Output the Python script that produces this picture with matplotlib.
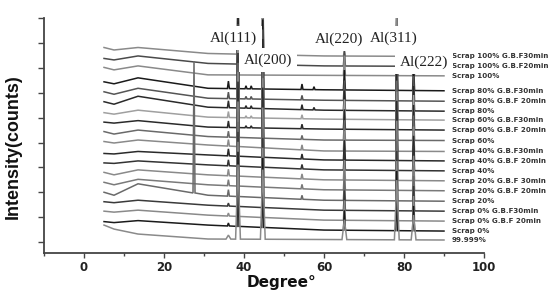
import numpy as np
import matplotlib
matplotlib.use("Agg")
import matplotlib.pyplot as plt
from matplotlib.ticker import MultipleLocator

# ---------------- data ----------------
sample_labels = [
    "Scrap 100% G.B.F30min", "Scrap 100% G.B.F20min", "Scrap 100%",
    "Scrap 80% G.B.F30min", "Scrap 80% G.B.F 20min", "Scrap 80%",
    "Scrap 60% G.B.F30min", "Scrap 60% G.B.F 20min", "Scrap 60%",
    "Scrap 40% G.B.F30min", "Scrap 40% G.B.F 20min", "Scrap 40%",
    "Scrap 20% G.B.F 30min", "Scrap 20% G.B.F 20min", "Scrap 20%",
    "Scrap 0% G.B.F30min", "Scrap 0% G.B.F 20min", "Scrap 0%",
    "99.999%",
]

# baseline (offset, counts) of each stacked pattern at these 2-theta values
base_x = [5, 7.5, 13.5, 31, 60, 90]
baselines = [
    [3910, 3860, 3910, 3790, 3740, 3730],
    [3690, 3660, 3740, 3590, 3540, 3530],
    [3510, 3460, 3540, 3360, 3350, 3340],
    [3220, 3180, 3300, 3090, 3060, 3040],
    [3020, 2970, 3090, 2890, 2850, 2830],
    [2820, 2770, 2930, 2710, 2650, 2630],
    [2600, 2570, 2650, 2510, 2470, 2450],
    [2410, 2390, 2440, 2310, 2270, 2250],
    [2220, 2170, 2250, 2120, 2050, 2040],
    [2020, 1990, 2050, 1950, 1830, 1820],
    [1780, 1770, 1820, 1750, 1650, 1630],
    [1590, 1580, 1630, 1550, 1450, 1430],
    [1400, 1350, 1450, 1350, 1250, 1230],
    [1200, 1150, 1260, 1150, 1050, 1030],
    [1000, 940, 1170, 940, 840, 820],
    [810, 790, 840, 740, 640, 620],
    [620, 600, 640, 540, 440, 420],
    [410, 390, 430, 340, 240, 220],
    [340, 260, 160, 60, 50, 40],
]

# Al reflections
peak_names = ["Al(111)", "Al(200)", "Al(220)", "Al(311)", "Al(222)"]
peak_pos = [38.5, 44.7, 65.1, 78.2, 82.4]
peak_heights = [
    [1500, 1400, 100, 1200, 100],
    [1500, 1400, 300, 1200, 150],
    [1500, 1400, 400, 1200, 500],
    [1500, 1400, 400, 1200, 500],
    [1500, 1400, 400, 1200, 500],
    [1500, 1400, 400, 1200, 500],
    [1500, 1400, 400, 1200, 500],
    [1500, 1400, 400, 1200, 500],
    [1500, 1400, 400, 1200, 500],
    [1500, 1400, 400, 1200, 500],
    [1500, 1400, 400, 1200, 500],
    [1500, 1400, 400, 1200, 500],
    [1500, 1400, 400, 1200, 500],
    [1500, 1400, 400, 1200, 500],
    [1500, 1400, 400, 1200, 500],
    [1500, 1400, 400, 1200, 500],
    [1500, 1400, 400, 1200, 500],
    [1500, 1400, 400, 1200, 500],
    [1500, 1400, 400, 1200, 500],
]

# weak reflections
minor_pos = [27.5, 36.1, 40.5, 41.8, 54.5, 57.5]
minor_heights = [
    [0, 0, 0, 0, 0, 0],
    [0, 0, 0, 0, 0, 0],
    [0, 0, 0, 0, 0, 0],
    [0, 150, 60, 60, 110, 60],
    [0, 130, 50, 50, 90, 0],
    [0, 140, 50, 50, 100, 50],
    [0, 120, 40, 40, 80, 0],
    [0, 130, 40, 40, 90, 0],
    [0, 120, 0, 0, 80, 0],
    [0, 130, 0, 0, 100, 0],
    [0, 140, 0, 0, 100, 0],
    [0, 120, 0, 0, 90, 0],
    [0, 130, 0, 0, 100, 0],
    [0, 120, 0, 0, 90, 0],
    [2650, 130, 0, 0, 80, 0],
    [0, 60, 0, 0, 0, 0],
    [0, 60, 0, 0, 0, 0],
    [0, 60, 0, 0, 0, 0],
    [0, 80, 0, 0, 0, 0],
]

line_colors = ["#8a8a8a", "#4a4a4a", "#8a8a8a", "#1a1a1a", "#555555",
               "#2a2a2a", "#a0a0a0", "#2a2a2a", "#6a6a6a", "#8a8a8a",
               "#2a2a2a", "#333333", "#8a8a8a", "#7a7a7a", "#6a6a6a",
               "#3a3a3a", "#8a8a8a", "#1a1a1a", "#8a8a8a"]

x_ticks = [0, 20, 40, 60, 80, 100]
x_ticklabels = ["0", "20", "40", "60", "80", "100"]

# ---------------- figure ----------------
fig = plt.figure(figsize=(5.53, 2.96), dpi=100)
ax = fig.add_axes([0.0796, 0.1453, 0.7956, 0.7939])

for i in range(len(sample_labels)):
    bx = base_x
    by = baselines[i]
    w = 0.6 if i == len(sample_labels) - 1 else 0.25
    pts = list(zip(bx, by))
    for p, h in list(zip(peak_pos, peak_heights[i])) + list(zip(minor_pos, minor_heights[i])):
        if h > 0:
            b = float(np.interp(p, bx, by))
            pts += [(p - w, b), (p, b + h), (p + w, b)]
    pts.sort(key=lambda t: t[0])
    xs, ys = zip(*pts)
    ax.plot(xs, ys, color=line_colors[i], lw=1.1, solid_joinstyle="miter", zorder=2)
    ax.text(91.9, by[-1], sample_labels[i], fontsize=5.15, fontweight="bold",
            color="#333333", ha="left", va="center", family="DejaVu Sans")

# reflection labels (white boxes hide the traces behind them)
label_xy = [(37.3, 4100), (45.9, 3660), (63.7, 4080), (77.4, 4100), (84.9, 3620)]
for name, (lx, ly) in zip(peak_names, label_xy):
    ax.text(lx, ly, name, fontsize=11, family="Liberation Serif", ha="center",
            va="center", color="#222222", zorder=5,
            bbox=dict(fc="white", ec="none", pad=3.5))

ax.set_xlim(-10, 100)
ax.set_ylim(-221, 4503)
ax.set_xticks(x_ticks)
ax.set_xticklabels(x_ticklabels, fontweight="bold", fontsize=8.5,
                   family="DejaVu Sans", color="#222222")
ax.xaxis.set_minor_locator(MultipleLocator(10))
ax.yaxis.set_major_locator(MultipleLocator(1000))
ax.yaxis.set_minor_locator(MultipleLocator(500))
ax.tick_params(axis="y", which="both", labelleft=False, direction="out",
               length=4, width=1.0, color="#444444")
ax.tick_params(axis="x", which="major", direction="out", length=3.5, width=1.0,
               color="#444444", pad=2.0)
ax.tick_params(axis="x", which="minor", direction="out", length=2.5, width=1.0,
               color="#444444")

for s in ["top", "right"]:
    ax.spines[s].set_visible(False)
for s in ["left", "bottom"]:
    ax.spines[s].set_color("#444444")
    ax.spines[s].set_linewidth(1.3)

fig.text(13 / 553, 0.503, "Intensity(counts)", rotation=90, fontsize=13,
         fontweight="bold", family="Liberation Sans", ha="center", va="center",
         color="#111111")
fig.text(282 / 553, 1 - 282 / 296, "Degree°", fontsize=11, fontweight="bold",
         family="DejaVu Sans", ha="center", va="center", color="#111111")

fig.savefig("out.png", dpi=100)
